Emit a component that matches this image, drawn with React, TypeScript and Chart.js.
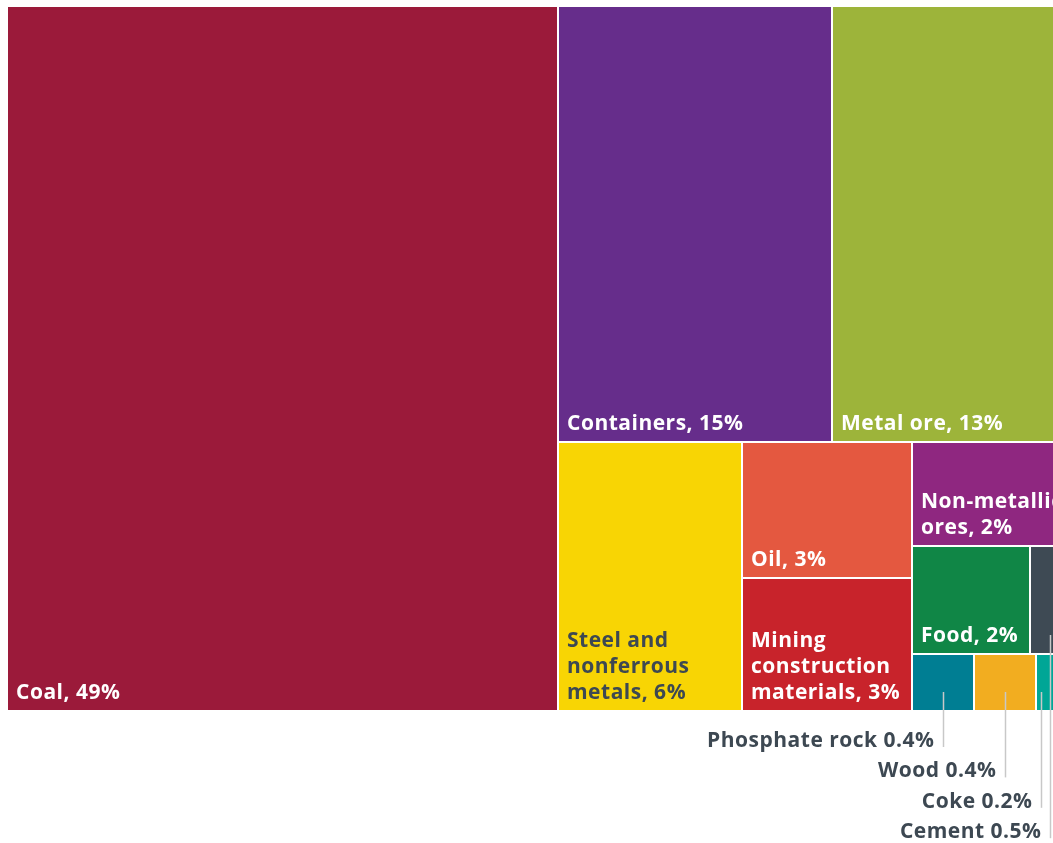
import { useEffect, useRef } from "react";
import { Chart, registerables } from "chart.js";

Chart.register(...registerables);

// ---- data (shares of total, %) ----
const categories = [
  "Coal",
  "Containers",
  "Metal ore",
  "Steel and nonferrous metals",
  "Oil",
  "Mining construction materials",
  "Non-metallic ores",
  "Food",
  "Cement",
  "Phosphate rock",
  "Wood",
  "Coke",
];
const shares = [48.5, 14.9, 12.95, 6.18, 2.9, 2.84, 2.05, 1.6, 0.54, 0.44, 0.44, 0.24];

// ---- styles ----
const colors = [
  "#9b1a3a",
  "#662d8b",
  "#9db43a",
  "#f8d504",
  "#e45840",
  "#c8232b",
  "#8f2780",
  "#108646",
  "#3e4a54",
  "#007e93",
  "#f2ad20",
  "#00a696",
];
const DARK_TEXT = "#3d4852";
const LEADER = "#c8c8c8";
const FONT = '700 21px "Open Sans", "Noto Sans", sans-serif';

// layout constants (data units == pixels of the plot area)
const ROOT_W = 1061;
const ROOT_H = 703;
const GAP = 2;
const RATIO = 1.25;
const MIN_LABEL_W = 90;
const MIN_LABEL_H = 60;

type Cell = { i: number; x0: number; y0: number; x1: number; y1: number };

function squarify(values: number[], idx: number[], bx0: number, by0: number, bx1: number, by1: number, ratio: number): Cell[] {
  const out: Cell[] = [];
  const n = values.length;
  let value = values.reduce((a, b) => a + b, 0);
  let x0 = bx0, y0 = by0, x1 = bx1, y1 = by1;
  let i0 = 0, i1 = 0;
  while (i0 < n) {
    const dx = x1 - x0, dy = y1 - y0;
    let sumValue = values[i1++];
    let minValue = sumValue, maxValue = sumValue;
    const alpha = Math.max(dy / dx, dx / dy) / (value * ratio);
    let beta = sumValue * sumValue * alpha;
    let minRatio = Math.max(maxValue / beta, beta / minValue);
    for (; i1 < n; ++i1) {
      const nv = values[i1];
      sumValue += nv;
      if (nv < minValue) minValue = nv;
      if (nv > maxValue) maxValue = nv;
      beta = sumValue * sumValue * alpha;
      const newRatio = Math.max(maxValue / beta, beta / minValue);
      if (newRatio > minRatio) {
        sumValue -= nv;
        break;
      }
      minRatio = newRatio;
    }
    if (dx < dy) {
      const ny = value ? y0 + (dy * sumValue) / value : y1;
      const k = (x1 - x0) / sumValue;
      let x = x0;
      for (let j = i0; j < i1; j++) {
        const w = values[j] * k;
        out.push({ i: idx[j], x0: x, y0: y0, x1: x + w, y1: ny });
        x += w;
      }
      y0 = ny;
    } else {
      const nx = value ? x0 + (dx * sumValue) / value : x1;
      const k = (y1 - y0) / sumValue;
      let y = y0;
      for (let j = i0; j < i1; j++) {
        const h = values[j] * k;
        out.push({ i: idx[j], x0: x0, y0: y, x1: nx, y1: y + h });
        y += h;
      }
      x0 = nx;
    }
    value -= sumValue;
    i0 = i1;
  }
  return out;
}

function buildCells(): Cell[] {
  const order = shares.map((_, i) => i).sort((a, b) => shares[b] - shares[a]);
  const vals = order.map((i) => shares[i]);
  const h = GAP / 2;
  const raw = squarify(vals, order, -h, -h, ROOT_W + h, ROOT_H + h, RATIO);
  return raw.map((c) => ({ i: c.i, x0: c.x0 + h, y0: c.y0 + h, x1: c.x1 - h, y1: c.y1 - h }));
}

const pct = (v: number) => (v >= 1 ? `${Math.round(v)}%` : `${v.toFixed(1)}%`);

function luminance(hex: string) {
  const r = parseInt(hex.slice(1, 3), 16), g = parseInt(hex.slice(3, 5), 16), b = parseInt(hex.slice(5, 7), 16);
  return 0.299 * r + 0.587 * g + 0.114 * b;
}

function wrap(ctx: CanvasRenderingContext2D, text: string, maxW: number) {
  const words = text.split(" ");
  const lines: string[] = [];
  let cur = "";
  for (const w of words) {
    const test = cur ? cur + " " + w : w;
    if (cur && ctx.measureText(test).width > maxW) {
      lines.push(cur);
      cur = w;
    } else cur = test;
  }
  if (cur) lines.push(cur);
  return lines;
}

const treemapPlugin = {
  id: "treemapCells",
  afterDatasetsDraw(chart: any) {
    const ctx: CanvasRenderingContext2D = chart.ctx;
    const xs = chart.scales.x, ys = chart.scales.y;
    const cells = buildCells();
    const PAD = 8, LINE_H = 26;
    ctx.save();
    ctx.font = FONT;
    (ctx as any).letterSpacing = "0.5px";
    const outside: { cx: number; px1: number; py1: number; text: string }[] = [];
    const boxes = cells.map((c) => {
      const px0 = Math.round(xs.getPixelForValue(c.x0));
      const px1 = Math.round(xs.getPixelForValue(c.x1));
      const pyA = ys.getPixelForValue(c.y0), pyB = ys.getPixelForValue(c.y1);
      const py0 = Math.round(Math.min(pyA, pyB));
      const py1 = Math.round(Math.max(pyA, pyB));
      return { c, px0, px1, py0, py1 };
    });
    for (const b of boxes) {
      ctx.fillStyle = colors[b.c.i];
      ctx.fillRect(b.px0, b.py0, b.px1 - b.px0, b.py1 - b.py0);
    }
    for (const b of boxes) {
      const i = b.c.i;
      const w = b.px1 - b.px0, h = b.py1 - b.py0;
      if (w >= MIN_LABEL_W && h >= MIN_LABEL_H) {
        const label = `${categories[i]}, ${pct(shares[i])}`;
        const lines = wrap(ctx, label, w - PAD - 4);
        ctx.fillStyle = luminance(colors[i]) > 180 ? DARK_TEXT : "#ffffff";
        ctx.textAlign = "left";
        ctx.textBaseline = "alphabetic";
        const baseLast = b.py1 - 11;
        lines.forEach((ln, k) => {
          ctx.fillText(ln, b.px0 + PAD, baseLast - (lines.length - 1 - k) * LINE_H);
        });
      } else {
        outside.push({
          cx: (b.px0 + b.px1) / 2,
          px1: b.px1,
          py1: b.py1,
          text: `${categories[i]} ${pct(shares[i])}`,
        });
      }
    }
    outside.sort((a, b) => a.px1 - b.px1 || b.py1 - a.py1);
    const lx: number[] = new Array(outside.length);
    for (let k = outside.length - 1; k >= 0; k--) {
      lx[k] = k === outside.length - 1 ? outside[k].cx : Math.min(outside[k].cx, lx[k + 1] - 9);
    }
    const bottom = chart.chartArea.bottom;
    outside.forEach((o, k) => {
      const base = bottom + 37 + k * 30.4;
      const x = Math.round(lx[k]) + 0.5;
      ctx.strokeStyle = LEADER;
      ctx.lineWidth = 1.5;
      ctx.beginPath();
      ctx.moveTo(x, o.py1 - 18);
      ctx.lineTo(x, base);
      ctx.stroke();
      ctx.fillStyle = DARK_TEXT;
      ctx.textAlign = "right";
      ctx.textBaseline = "alphabetic";
      ctx.fillText(o.text, x - 9, base);
    });
    ctx.restore();
  },
};

const CANVAS_W = 1080;
const CANVAS_H = 843;

export default function App() {
  const ref = useRef<HTMLCanvasElement>(null);
  useEffect(() => {
    const canvas = ref.current;
    if (!canvas) return;
    const chart = new Chart(canvas, {
      type: "scatter",
      data: { datasets: [{ data: [], pointRadius: 0 }] },
      options: {
        responsive: false,
        maintainAspectRatio: false,
        devicePixelRatio: 1,
        animation: false,
        events: [],
        layout: {
          padding: { left: 8, top: 7, right: CANVAS_W - 8 - ROOT_W, bottom: CANVAS_H - 7 - ROOT_H },
        },
        scales: {
          x: { type: "linear", min: 0, max: ROOT_W, display: false },
          y: { type: "linear", min: 0, max: ROOT_H, reverse: true, display: false },
        },
        plugins: { legend: { display: false }, tooltip: { enabled: false } },
      },
      plugins: [treemapPlugin],
    } as any);
    return () => chart.destroy();
  }, []);
  return (
    <div
      style={{
        position: "fixed",
        left: 0,
        top: 0,
        width: 1053,
        height: 843,
        overflow: "hidden",
        background: "#ffffff",
      }}
    >
      <canvas ref={ref} width={CANVAS_W} height={CANVAS_H} style={{ display: "block", width: CANVAS_W, height: CANVAS_H }} />
    </div>
  );
}
